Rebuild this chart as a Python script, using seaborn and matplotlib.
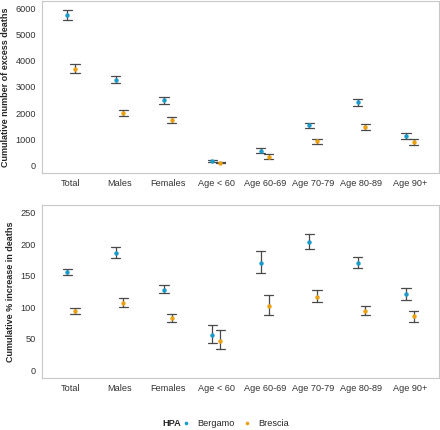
import pandas as pd
import seaborn as sns
import matplotlib.pyplot as plt
from matplotlib.lines import Line2D

groups = ['Total', 'Males', 'Females', 'Age < 60', 'Age 60-69', 'Age 70-79', 'Age 80-89', 'Age 90+']

# cumulative number of excess deaths (estimate, lower, upper)
deaths_bg = [5750, 3270, 2490, 150, 545, 1525, 2405, 1120]
deaths_bg_lo = [5560, 3140, 2355, 110, 470, 1425, 2280, 1020]
deaths_bg_hi = [5950, 3410, 2620, 190, 640, 1630, 2545, 1220]
deaths_bs = [3700, 1985, 1730, 100, 330, 915, 1475, 890]
deaths_bs_lo = [3540, 1870, 1615, 70, 255, 830, 1360, 775]
deaths_bs_hi = [3890, 2110, 1860, 140, 410, 1020, 1590, 990]

# cumulative % increase in deaths (estimate, lower, upper)
pct_bg = [156, 187, 128, 55.6, 170.5, 204, 171, 120.8]
pct_bg_lo = [150.5, 179, 122, 43, 154, 191.8, 162.6, 111.7]
pct_bg_hi = [161, 195, 134.6, 72, 189.6, 217, 179.6, 130.8]
pct_bs = [93.3, 107, 82.6, 46.6, 101.7, 116.5, 94.2, 85.3]
pct_bs_lo = [89, 100.6, 76.8, 33.4, 87.4, 107.6, 87.9, 76.8]
pct_bs_hi = [98.5, 114, 89, 64, 118.7, 128, 101.7, 93.3]

hpa = ['Bergamo', 'Brescia']
colors = {'Bergamo': '#1B9BCB', 'Brescia': '#EBA010'}


def long_table(est_bg, lo_bg, hi_bg, est_bs, lo_bs, hi_bs):
    # three rows per cell: median gives the estimate, min/max the interval
    rows = []
    for name, vals in [('Bergamo', (est_bg, lo_bg, hi_bg)), ('Brescia', (est_bs, lo_bs, hi_bs))]:
        for i, g in enumerate(groups):
            for v in vals:
                rows.append({'group': g, 'HPA': name, 'value': v[i]})
    return pd.DataFrame(rows)


df_deaths = long_table(deaths_bg, deaths_bg_lo, deaths_bg_hi, deaths_bs, deaths_bs_lo, deaths_bs_hi)
df_pct = long_table(pct_bg, pct_bg_lo, pct_bg_hi, pct_bs, pct_bs_lo, pct_bs_hi)

sns.set_style('white')
plt.rcParams['font.family'] = ['Liberation Sans', 'DejaVu Sans']

fig = plt.figure(figsize=(4.4, 4.3), dpi=100)
ax1 = fig.add_axes([0.0955, 0.5977, 0.902, 0.4])
ax2 = fig.add_axes([0.0955, 0.1209, 0.902, 0.4023])

for ax, df, ylab, lim, ticks in [
    (ax1, df_deaths, 'Cumulative number of excess deaths', (-300, 6300), range(0, 6001, 1000)),
    (ax2, df_pct, 'Cumulative % increase in deaths', (-12.5, 262.5), range(0, 251, 50)),
]:
    sns.pointplot(data=df, x='group', y='value', hue='HPA', order=groups, hue_order=hpa,
                  palette=colors, estimator='median', errorbar=lambda v: (v.min(), v.max()),
                  dodge=0.16, linestyle='none', markers='o', markersize=3.2, markeredgewidth=0,
                  capsize=0.19, err_kws={'color': '#4a4a4a', 'linewidth': 0.9, 'zorder': 2},
                  zorder=3, legend=False, ax=ax)
    ax.set_xlim(-0.6, len(groups) - 0.4)
    ax.set_ylim(*lim)
    ax.set_yticks(list(ticks))
    ax.set_xlabel('')
    ax.set_ylabel(ylab, fontsize=6.5, fontweight='bold', labelpad=4)
    ax.tick_params(axis='both', labelsize=6.6, length=2.5, width=0.6, color='#333333',
                   labelcolor='#333333', pad=2)
    for s in ax.spines.values():
        s.set_color('#c8c8c8')
        s.set_linewidth(0.8)
    ax.grid(False)

handles = [Line2D([], [], marker='o', linestyle='none', markersize=2.6, markeredgewidth=0,
                  color=colors[h]) for h in hpa]
fig.text(0.37, 0.014, 'HPA', fontsize=6.6, fontweight='bold', va='center', ha='left')
fig.legend(handles, hpa, loc='center left', bbox_to_anchor=(0.412, 0.014), ncol=2, frameon=False,
           fontsize=6.6, handlelength=1.0, handletextpad=0.7, columnspacing=0.9, borderaxespad=0,
           borderpad=0)

fig.savefig('out.png', dpi=100)
